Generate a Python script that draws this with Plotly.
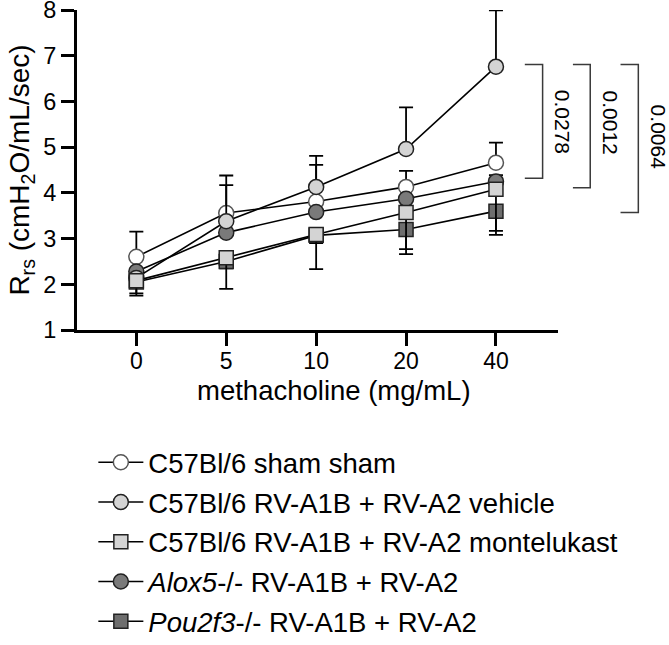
import plotly.graph_objects as go

doses = ["0", "5", "10", "20", "40"]

series_names = [
    "C57Bl/6 sham sham",
    "C57Bl/6 RV-A1B + RV-A2 vehicle",
    "C57Bl/6 RV-A1B + RV-A2 montelukast",
    "<i>Alox5</i>-/- RV-A1B + RV-A2",
    "<i>Pou2f3</i>-/- RV-A1B + RV-A2",
]

sham = [2.60, 3.56, 3.81, 4.13, 4.66]
vehicle = [2.14, 3.38, 4.13, 4.96, 6.76]
montelukast = [2.08, 2.58, 3.09, 3.57, 4.08]
alox5 = [2.28, 3.13, 3.58, 3.87, 4.25]
pou2f3 = [2.05, 2.50, 3.07, 3.20, 3.60]

# one-sided SEM bars (upper, lower)
sham_up = [0.55, 0.82, 0.80, 0.35, 0.44]
sham_lo = [0, 0, 0, 0, 0]
vehicle_up = [0, 0.79, 0.68, 0.91, 1.23]
vehicle_lo = [0, 0, 0, 0, 0]
montelukast_up = [0, 0, 0, 0, 0]
montelukast_lo = [0.28, 0.68, 0.76, 0.80, 0.91]
alox5_up = [0, 0, 0, 0, 0.14]
alox5_lo = [0, 0, 0, 0, 0]
pou2f3_up = [0, 0, 0, 0, 0]
pou2f3_lo = [0.30, 0.15, 0.17, 0.54, 0.52]

p_values = ["0.0278", "0.0012", "0.0064"]

x_title = "methacholine (mg/mL)"
y_title = "R<sub>rs</sub> (cmH<sub>2</sub>O/mL/sec)"

FONT = "Arial, Liberation Sans, Helvetica, sans-serif"

styles = {
    0: dict(symbol="circle", color="white", line="#555555"),
    1: dict(symbol="circle", color="#d4d4d4", line="#222222"),
    2: dict(symbol="square", color="#d4d4d4", line="#222222"),
    3: dict(symbol="circle", color="#7a7a7a", line="#222222"),
    4: dict(symbol="square", color="#6e6e6e", line="#222222"),
}
data = [
    (sham, sham_up, sham_lo),
    (vehicle, vehicle_up, vehicle_lo),
    (montelukast, montelukast_up, montelukast_lo),
    (alox5, alox5_up, alox5_lo),
    (pou2f3, pou2f3_up, pou2f3_lo),
]

fig = go.Figure()
draw_order = [0, 3, 4, 1, 2]
for i in draw_order:
    vals, up, lo = data[i]
    st = styles[i]
    fig.add_trace(go.Scatter(
        x=doses, y=vals, name=series_names[i], legendrank=i + 1,
        legendgroup=str(i),
        mode="lines+markers",
        line=dict(color="black", width=1.6),
        marker=dict(symbol=st["symbol"], size=15 if st["symbol"] == "circle" else 14,
                    color=st["color"], line=dict(color=st["line"], width=1.5)),
        error_y=dict(type="data", symmetric=False, array=up, arrayminus=lo,
                     color="black", thickness=1.8, width=7),
    ))

# significance brackets (paper x, data y)
brackets = [
    (0.931, 0.968, 6.81, 4.32, 1.038, 5.56),
    (1.031, 1.067, 6.81, 4.11, 1.137, 5.53),
    (1.130, 1.167, 6.81, 3.57, 1.236, 5.23),
]
for (x1, x2, yt, yb, tx, ty), p in zip(brackets, p_values):
    fig.add_shape(type="path", xref="paper", yref="y",
                  path=f"M {x1} {yt} L {x2} {yt} L {x2} {yb} L {x1} {yb}",
                  line=dict(color="#3a3a3a", width=1.5))
    fig.add_annotation(x=tx, y=ty, xref="paper", yref="y", text=p, showarrow=False,
                       textangle=90, font=dict(family=FONT, size=21, color="black"))

fig.add_annotation(x=0.534, y=-0.19, xref="paper", yref="paper", text=x_title,
                   showarrow=False, xanchor="center", yanchor="middle",
                   font=dict(family=FONT, size=27.5, color="black"))

fig.update_layout(
    width=669, height=645,
    margin=dict(l=77, r=111, t=10, b=315, autoexpand=False),
    plot_bgcolor="white", paper_bgcolor="white",
    font=dict(family=FONT, color="black"),
    showlegend=True,
    legend=dict(x=0.034, y=-0.337, xanchor="left", yanchor="top",
                font=dict(family=FONT, size=27.5, color="black"),
                itemwidth=45, tracegroupgap=1,
                bgcolor="rgba(0,0,0,0)"),
)
fig.update_xaxes(
    type="category", categoryorder="array", categoryarray=doses,
    range=[-0.66, 4.69], showline=True, linewidth=3, linecolor="black",
    ticks="outside", ticklen=13, tickwidth=3, tickcolor="black",
    showgrid=False, zeroline=False, ticklabelstandoff=-5,
    tickfont=dict(family=FONT, size=23),
)
fig.update_yaxes(
    range=[1, 8], dtick=1, showline=True, linewidth=3, linecolor="black",
    ticks="outside", ticklen=13, tickwidth=3, tickcolor="black",
    showgrid=False, zeroline=False, ticklabeloverflow="allow",
    tickfont=dict(family=FONT, size=23.5),
    title=dict(text=y_title, font=dict(family=FONT, size=28), standoff=6),
)

fig.write_html("out.html")
